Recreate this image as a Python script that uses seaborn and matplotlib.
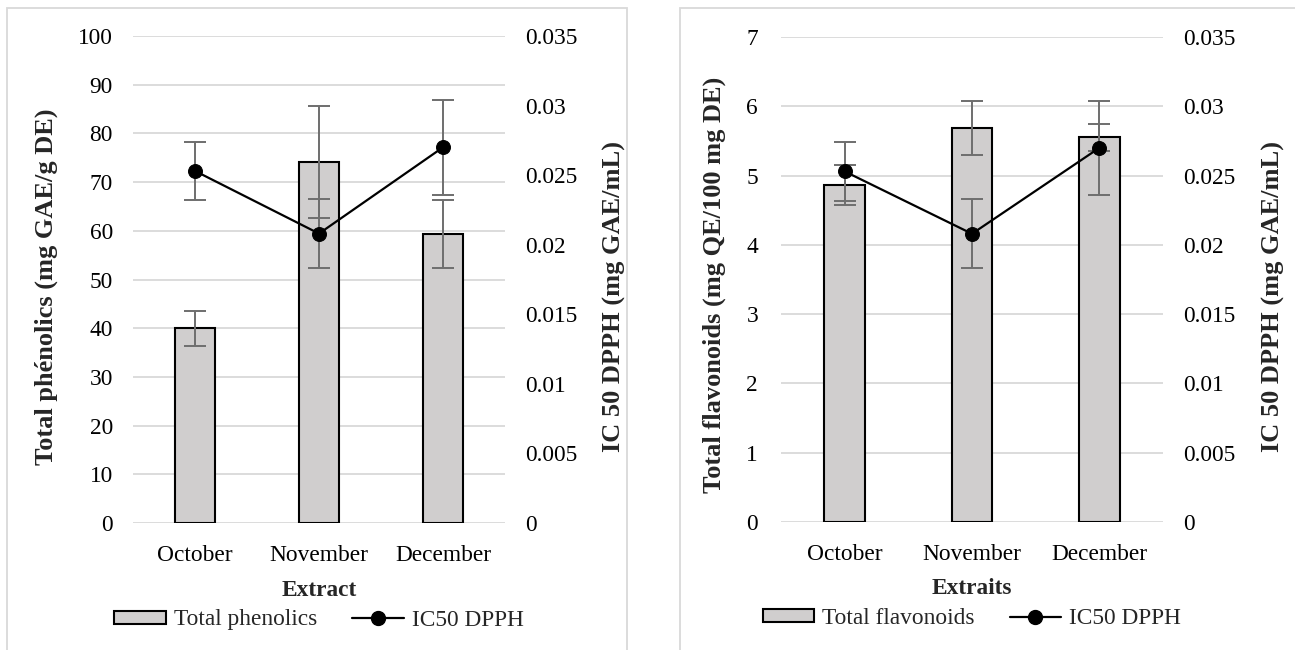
import numpy as np
import pandas as pd
import matplotlib
matplotlib.use("Agg")
import matplotlib.pyplot as plt
from matplotlib.patches import Rectangle, Patch
from matplotlib.lines import Line2D
from matplotlib.ticker import FuncFormatter, MultipleLocator
import seaborn as sns

months = ["October", "November", "December"]
phenolics = [40.0, 74.2, 59.4]
phenolics_err = [3.6, 11.5, 7.0]
flavonoids = [4.86, 5.68, 5.55]
flavonoids_err = [0.29, 0.39, 0.19]
ic50 = [0.0253, 0.0208, 0.0270]
ic50_err = [0.0021, 0.0025, 0.0034]

sns.set_theme(style="white")
plt.rcParams["font.family"] = ["Liberation Serif", "DejaVu Serif"]

W, H = 1295, 650
FS = 16.8
FS_Y = 19.0
BAR_COLOR = "#D0CECE"
ERR_COLOR = "#6E6E6E"
GRID_COLOR = "#D9D9D9"

fig = plt.figure(figsize=(W / 100, H / 100), dpi=100)
fig.patch.set_facecolor("white")

# panel borders
fig.patches.append(Rectangle((7 / W, -0.05), (627 - 7) / W, 1.05 - 8 / H,
                             transform=fig.transFigure, fill=False,
                             edgecolor=GRID_COLOR, linewidth=1.3))
fig.patches.append(Rectangle((680 / W, -0.05), (1300 - 680) / W, 1.05 - 8 / H,
                             transform=fig.transFigure, fill=False,
                             edgecolor=GRID_COLOR, linewidth=1.3))


def panel(rect, values, errs, ymax, ystep, ylabel, xlabel, bar_label,
          left_lx, left_ly, right_lx, right_ly, left_pad):
    ax = fig.add_axes(rect)
    df = pd.DataFrame({"Month": months, "Value": values})
    sns.barplot(data=df, x="Month", y="Value", ax=ax, color=BAR_COLOR,
                edgecolor="black", linewidth=1.5, width=0.32, saturation=1,
                errorbar=None, zorder=2)
    ax.errorbar(np.arange(len(months)), values, yerr=errs, fmt="none",
                ecolor=ERR_COLOR, elinewidth=1.4, capsize=8, capthick=1.4, zorder=3)
    ax.set_ylim(0, ymax)
    ax.yaxis.set_major_locator(MultipleLocator(ystep))
    ax.grid(axis="y", color=GRID_COLOR, linewidth=1.3)
    ax.set_axisbelow(True)
    for s in ax.spines.values():
        s.set_visible(False)
    ax.tick_params(axis="both", length=0, labelsize=FS, colors="black")
    ax.tick_params(axis="y", pad=left_pad)
    ax.tick_params(axis="x", pad=15.5)
    ax.set_ylabel(ylabel, fontsize=FS_Y, fontweight="bold")
    ax.set_xlabel(xlabel, fontsize=FS, fontweight="bold", va="center")
    ax.xaxis.set_label_coords(0.5, -(590 - 523) / 487)
    ax.yaxis.set_label_coords(left_lx, left_ly)

    ax2 = ax.twinx()
    sns.lineplot(x=np.arange(len(months)), y=ic50, ax=ax2, color="black",
                 linewidth=1.6, marker="o", markersize=10, markeredgecolor="black",
                 zorder=4)
    ax2.errorbar(np.arange(len(months)), ic50, yerr=ic50_err, fmt="none",
                 ecolor=ERR_COLOR, elinewidth=1.4, capsize=8, capthick=1.4, zorder=3)
    ax2.set_ylim(0, 0.035)
    ax2.yaxis.set_major_locator(MultipleLocator(0.005))
    ax2.yaxis.set_major_formatter(FuncFormatter(lambda v, p: f"{round(v, 4):g}"))
    ax2.set_xlim(-0.5, len(months) - 0.5)
    for s in ax2.spines.values():
        s.set_visible(False)
    ax2.tick_params(axis="y", length=0, labelsize=FS, pad=14.4, colors="black")
    ax2.set_ylabel("IC 50 DPPH (mg GAE/mL)", fontsize=FS_Y, fontweight="bold")
    ax2.yaxis.set_label_coords(right_lx, right_ly)

    handles = [Patch(facecolor=BAR_COLOR, edgecolor="black", linewidth=1.5),
               Line2D([], [], color="black", linewidth=1.6, marker="o", markersize=10)]
    ax2.legend(handles, [bar_label, "IC50 DPPH"], loc="center", ncol=2,
               bbox_to_anchor=(0.5, -(620 - 523) / 487), frameon=False,
               fontsize=FS, handlelength=2.2, handleheight=0.5,
               handletextpad=0.35, columnspacing=1.5, borderaxespad=0)
    return ax, ax2


panel([133 / W, 1 - 523 / H, 372 / W, 487 / H], phenolics, phenolics_err, 100, 10,
      "Total phénolics (mg GAE/g DE)", "Extract", "Total phenolics",
      (58 - 133) / 372, (523 - 287) / 487, (603 - 133) / 372, (523 - 296) / 487, 14.4)
panel([781 / W, 1 - 522 / H, 382 / W, 485 / H], flavonoids, flavonoids_err, 7, 1,
      "Total flavonoids (mg QE/100 mg DE)", "Extraits", "Total flavonoids",
      (726 - 781) / 382, (522 - 285) / 485, (1262 - 781) / 382, (522 - 296) / 485, 16.5)

fig.savefig("out.png", dpi=100, facecolor="white")
